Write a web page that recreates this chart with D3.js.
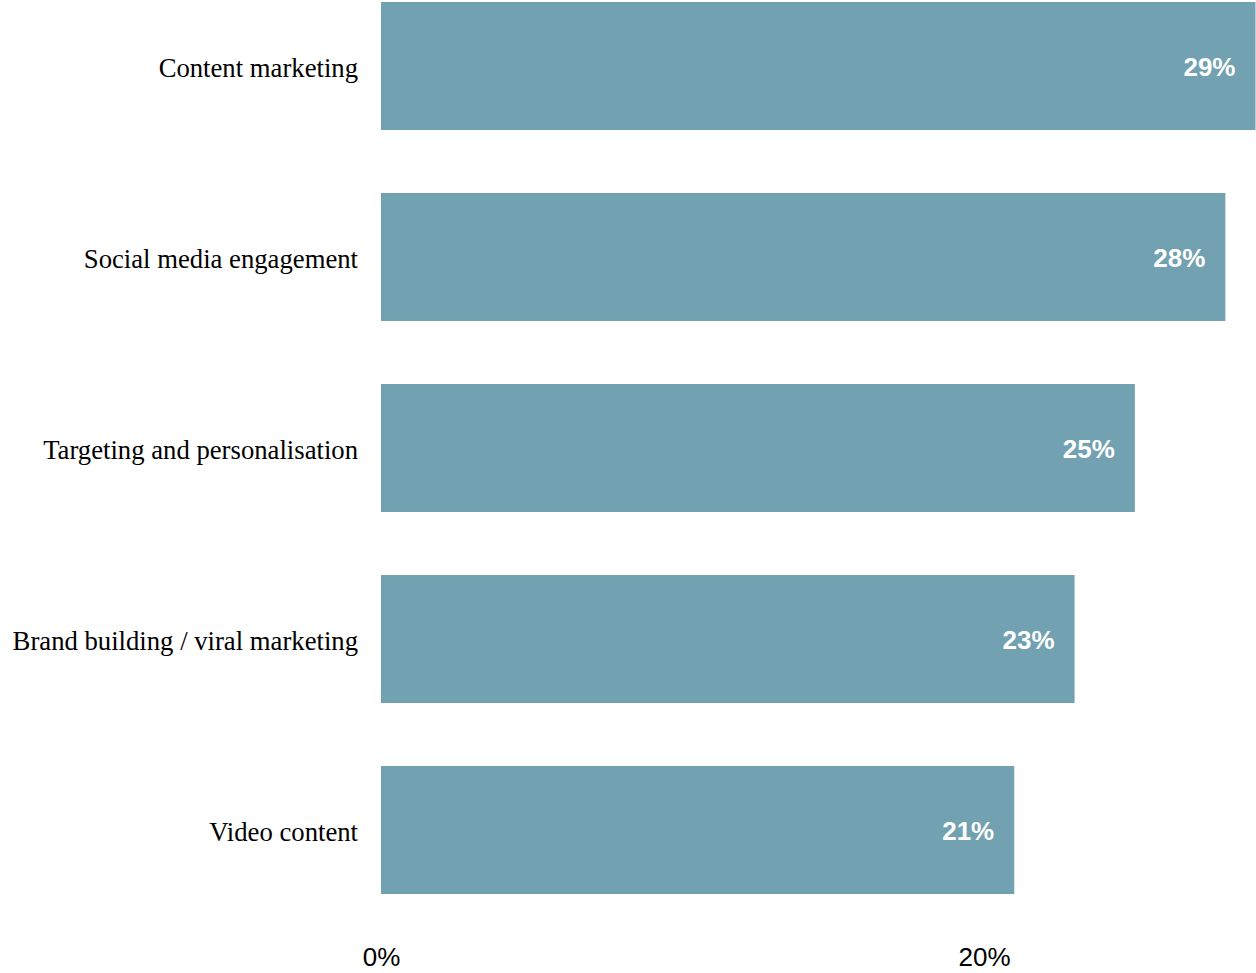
<!DOCTYPE html>
<html>
<head>
<meta charset="utf-8">
<script src="https://cdn.jsdelivr.net/npm/d3@7"></script>
<style>
  html, body { margin: 0; padding: 0; background: #fff; }
  svg { display: block; }
</style>
</head>
<body>
<svg id="chart" width="1256" height="973"></svg>
<script>
// Share of respondents per marketing focus area
const categories = [
  "Content marketing",
  "Social media engagement",
  "Targeting and personalisation",
  "Brand building / viral marketing",
  "Video content"
];
const values = [29, 28, 25, 23, 21];
const tickValues = [0, 20];

const svg = d3.select("#chart");
const width = 1256, height = 973;
const plot = { left: 381, top: 2, bottom: 894 };

const x = d3.scaleLinear()
  .domain([0, 29])
  .range([plot.left, width - 0.5]);

const y = d3.scaleBand()
  .domain(categories)
  .range([plot.top, plot.bottom])
  .paddingInner(0.33)
  .paddingOuter(0);

const data = categories.map((c, i) => ({ category: c, value: values[i] }));

// Bars
svg.append("g")
  .selectAll("rect")
  .data(data)
  .join("rect")
  .attr("x", x(0))
  .attr("y", d => y(d.category))
  .attr("width", d => x(d.value) - x(0))
  .attr("height", y.bandwidth())
  .attr("fill", "#72a1b1");

// Value labels inside bar ends
svg.append("g")
  .selectAll("text")
  .data(data)
  .join("text")
  .attr("x", d => x(d.value) - 20)
  .attr("y", d => y(d.category) + y.bandwidth() / 2)
  .attr("dy", "0.4em")
  .attr("text-anchor", "end")
  .attr("fill", "#ffffff")
  .style("font-family", "Liberation Sans, Arial, sans-serif")
  .style("font-weight", "bold")
  .style("font-size", "26px")
  .text(d => d.value + "%");

// Category axis (labels only)
const yAxis = svg.append("g")
  .attr("transform", `translate(${plot.left - 23},0)`)
  .call(d3.axisLeft(y).tickSize(0).tickPadding(0));
yAxis.select(".domain").remove();
yAxis.selectAll("text")
  .attr("fill", "#000")
  .attr("dy", "0.4em")
  .style("font-family", "Liberation Serif, Times New Roman, serif")
  .style("font-size", "26.7px");

// Value axis (tick labels only)
const xAxis = svg.append("g")
  .attr("transform", `translate(0,966)`)
  .call(d3.axisBottom(x).tickValues(tickValues).tickFormat(d => d + "%").tickSize(0).tickPadding(0));
xAxis.select(".domain").remove();
xAxis.selectAll("text")
  .attr("fill", "#000")
  .attr("dy", "0")
  .style("font-family", "Liberation Sans, Arial, sans-serif")
  .style("font-size", "26px");
</script>
</body>
</html>
